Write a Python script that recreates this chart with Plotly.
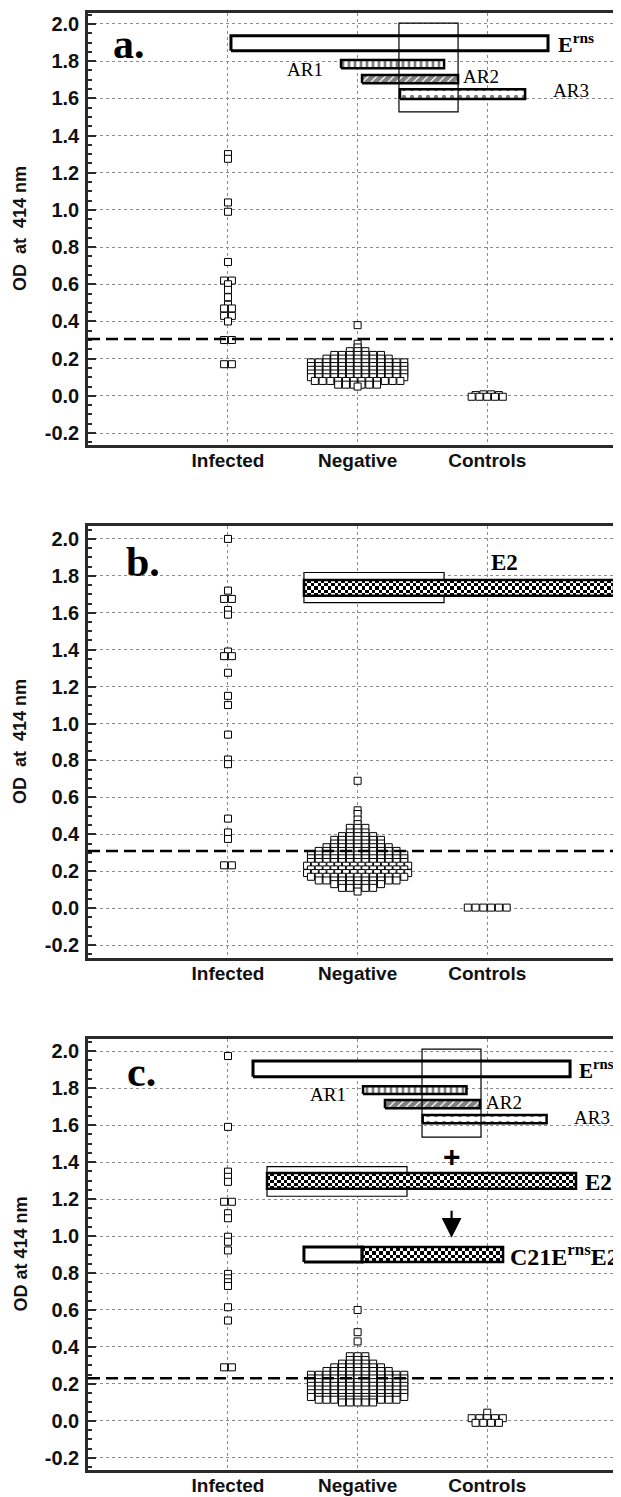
import plotly.graph_objects as go

# ---------------- data ----------------
CATEGORIES = ["Infected", "Negative", "Controls"]
Y_TICK_VALUES = [-0.2, 0.0, 0.2, 0.4, 0.6, 0.8, 1.0, 1.2, 1.4, 1.6, 1.8, 2.0]
Y_TICK_LABELS = ["-0.2", "0.0", "0.2", "0.4", "0.6", "0.8", "1.0", "1.2", "1.4", "1.6", "1.8", "2.0"]
Y_TITLES = ["OD  at  414 nm", "OD  at  414 nm", "OD at 414 nm"]
PANEL_LABELS = ["a.", "b.", "c."]

# panel a : E(rns) based ELISA
INFECTED_A = [1.30, 1.275, 1.04, 0.99, 0.72, 0.62, 0.62, 0.60, 0.57, 0.53, 0.49, 0.47, 0.47,
              0.43, 0.43, 0.40, 0.30, 0.30, 0.17, 0.17]
NEGATIVE_A_ROWS = [(0.38, 1), (0.28, 1), (0.26, 1), (0.24, 3), (0.22, 7), (0.20, 9), (0.18, 13),
                   (0.16, 13), (0.14, 13), (0.12, 13), (0.10, 13), (0.08, 12), (0.06, 6), (0.05, 1)]
CONTROLS_A = [-0.005, -0.005, -0.005, 0.004, 0.008, 0.008, 0.004, -0.005, -0.005]
CUTOFF_A = 0.305

# panel b : E2 based ELISA
INFECTED_B = [2.0, 1.72, 1.675, 1.675, 1.615, 1.59, 1.39, 1.365, 1.365, 1.275, 1.15, 1.10,
              0.94, 0.805, 0.78, 0.485, 0.41, 0.375, 0.232, 0.232]
NEGATIVE_B_ROWS = [(0.69, 1), (0.53, 1), (0.51, 1), (0.48, 1), (0.455, 1), (0.435, 3), (0.41, 3),
                   (0.39, 5), (0.37, 7), (0.35, 7), (0.33, 9), (0.31, 11), (0.29, 13), (0.27, 13),
                   (0.25, 13), (0.23, 14), (0.21, 13), (0.19, 14), (0.17, 13), (0.15, 11),
                   (0.13, 7), (0.11, 5), (0.09, 1)]
CONTROLS_B = [0.003, 0.003, 0.003, 0.003, 0.003, 0.003]
CUTOFF_B = 0.31

# panel c : C21ErnsE2 based ELISA
INFECTED_C = [1.973, 1.59, 1.348, 1.32, 1.293, 1.185, 1.185, 1.123, 1.096, 0.996, 0.969, 0.922,
              0.795, 0.771, 0.75, 0.73, 0.615, 0.543, 0.29, 0.29]
NEGATIVE_C_ROWS = [(0.60, 1), (0.48, 1), (0.43, 1), (0.35, 3), (0.33, 3), (0.31, 5), (0.29, 7),
                   (0.27, 9), (0.25, 13), (0.23, 13), (0.21, 13), (0.19, 13), (0.17, 13),
                   (0.15, 13), (0.13, 13), (0.115, 11), (0.10, 5)]
CONTROLS_C = [0.045, 0.015, 0.015, 0.015, 0.015, 0.015, -0.01, -0.01, -0.01, -0.01]
CUTOFF_C = 0.231


def expand(rows):
    out = []
    for v, n in rows:
        out += [v] * n
    return out


PANELS = [
    dict(groups=[INFECTED_A, expand(NEGATIVE_A_ROWS), CONTROLS_A], cutoff=CUTOFF_A),
    dict(groups=[INFECTED_B, expand(NEGATIVE_B_ROWS), CONTROLS_B], cutoff=CUTOFF_B),
    dict(groups=[INFECTED_C, expand(NEGATIVE_C_ROWS), CONTROLS_C], cutoff=CUTOFF_C),
]

# ---------------- schematic of antigen constructs (annotation drawings) ----------------
DIAGRAM_A = [
    dict(x=(0.023, 2.469), y=(1.856, 1.937), style="plain"),
    dict(x=(0.872, 1.667), y=(1.762, 1.806), style="ladder"),
    dict(x=(1.034, 1.775), y=(1.681, 1.726), style="hatch"),
    dict(x=(1.327, 2.292), y=(1.596, 1.649), style="dots"),
    dict(x=(1.319, 1.775), y=(1.527, 2.005), style="thin"),
]
DIAGRAM_B = [
    dict(x=(0.586, 1.667), y=(1.655, 1.818), style="thin_white"),
    dict(x=(0.586, 2.978), y=(1.692, 1.778), style="check"),
]
DIAGRAM_C = [
    dict(x=(0.193, 2.639), y=(1.861, 1.946), style="plain"),
    dict(x=(1.042, 1.840), y=(1.767, 1.810), style="ladder"),
    dict(x=(1.211, 1.944), y=(1.690, 1.735), style="hatch"),
    dict(x=(1.502, 2.458), y=(1.609, 1.654), style="dots"),
    dict(x=(1.497, 1.952), y=(1.535, 2.010), style="thin"),
    dict(x=(0.301, 1.381), y=(1.215, 1.375), style="thin_white"),
    dict(x=(0.301, 2.685), y=(1.256, 1.340), style="check"),
    dict(x=(0.586, 1.034), y=(0.860, 0.940), style="plain"),
    dict(x=(1.034, 2.122), y=(0.860, 0.940), style="check"),
]
DIAGRAMS = [DIAGRAM_A, DIAGRAM_B, DIAGRAM_C]

LABELS_A = [
    dict(t="<b>E<sup>rns</sup></b>", x=2.685, y=1.90, size=22, anchor="center"),
    dict(t="AR1", x=0.594, y=1.753, size=19, anchor="center"),
    dict(t="AR2", x=1.952, y=1.715, size=19, anchor="center"),
    dict(t="AR3", x=2.647, y=1.640, size=19, anchor="center"),
]
LABELS_B = [
    dict(t="<b>E2</b>", x=2.137, y=1.873, size=23, anchor="center"),
]
LABELS_C = [
    dict(t="<b>E<sup>rns</sup></b>", x=2.845, y=1.90, size=21, anchor="center"),
    dict(t="AR1", x=0.772, y=1.763, size=19, anchor="center"),
    dict(t="AR2", x=2.13, y=1.722, size=19, anchor="center"),
    dict(t="AR3", x=2.81, y=1.643, size=19, anchor="center"),
    dict(t="<b>E2</b>", x=2.855, y=1.29, size=23, anchor="center"),
    dict(t="<b>C21E<sup>rns</sup>E2</b>", x=2.16, y=0.90, size=24, anchor="left"),
]
LABELS = [LABELS_A, LABELS_B, LABELS_C]
PANEL_LABEL_POS = [(-0.764, 1.89), (-0.652, 1.876), (-0.667, 1.886)]

# ---------------- layout geometry ----------------
# the page body adds an 8 px offset; figure coordinates = reference pixels - 8
OFF = 8
W, H = 621 - OFF, 1497 - OFF
ML, MR = 88 - OFF, 0
PANEL_PX = [(13 - OFF, 445 - OFF), (526 - OFF, 958 - OFF), (1039 - OFF, 1470 - OFF)]
MT = PANEL_PX[0][0]
MB = H - PANEL_PX[2][1]
Y_RANGES = [(-0.2645, 2.059), (-0.270, 2.070), (-0.265, 2.065)]
X_RANGE = (-1.080, 3.032)
STEP = 0.060
PH = H - MT - MB
PX_PER_X = (W - ML - MR) / (X_RANGE[1] - X_RANGE[0])
CHECK_PX = 3.4

GRID = "#8c8c8c"
AX = "#2b2b2b"
SANS = "Liberation Sans, Arial, sans-serif"
SERIF = "Liberation Serif, Times New Roman, serif"


def dom(top, bot):
    return [(H - MB - bot) / PH, (H - MB - top) / PH]


def dot_positions(values, center, step, tol=0.008):
    vals = sorted(values, reverse=True)
    rows = []
    for v in vals:
        if rows and rows[-1][-1] - v <= tol:
            rows[-1].append(v)
        else:
            rows.append([v])
    xs, ys = [], []
    for row in rows:
        n = len(row)
        slots = sorted(range(n), key=lambda i: (abs(i - (n - 1) / 2), i))
        for v, s in zip(row, slots):
            xs.append(center + (s - (n - 1) / 2) * step)
            ys.append(v)
    return xs, ys


STYLE = {
    "plain": dict(fill="white", pattern=None, lw=3),
    "ladder": dict(fill="white", pattern=dict(shape="|", fgcolor="black", bgcolor="white", size=6, solidity=0.45), lw=2.5),
    "hatch": dict(fill="white", pattern=dict(shape="/", fgcolor="black", bgcolor="white", size=6, solidity=0.8), lw=2.5),
    "dots": dict(fill="white", pattern=dict(shape=".", fgcolor="black", bgcolor="white", size=8, solidity=0.25), lw=2.5),
    "check": dict(fill="white", pattern=None, lw=2.5),
    "thin_white": dict(fill="white", pattern=None, lw=1.2),
    "thin": dict(fill=None, pattern=None, lw=1.2),
}

fig = go.Figure()

for i in range(3):
    xn = "x" if i == 0 else f"x{i + 1}"
    yn = "y" if i == 0 else f"y{i + 1}"
    xk = "xaxis" if i == 0 else f"xaxis{i + 1}"
    yk = "yaxis" if i == 0 else f"yaxis{i + 1}"
    top, bot = PANEL_PX[i]
    px_per_y = (bot - top) / (Y_RANGES[i][1] - Y_RANGES[i][0])

    fig.layout[xk] = dict(
        domain=[0, 1], anchor=yn, range=list(X_RANGE),
        tickvals=[0, 1, 2], ticktext=CATEGORIES, ticks="",
        tickfont=dict(family=SANS, size=19, color="#111", weight="bold"),
        showgrid=True, gridcolor=GRID, griddash="dot", gridwidth=1,
        showline=True, mirror=True, linecolor=AX, linewidth=2.5, zeroline=False,
        ticklabelstandoff=-4, automargin=False,
    )
    fig.layout[yk] = dict(
        domain=dom(top, bot), anchor=xn, range=list(Y_RANGES[i]),
        tickvals=Y_TICK_VALUES, ticktext=Y_TICK_LABELS,
        ticks="inside", ticklen=8, tickwidth=1.5, tickcolor=AX,
        minor=dict(dtick=0.05, tick0=0, ticks="inside", ticklen=4, tickcolor=AX, showgrid=False),
        tickfont=dict(family=SANS, size=20, color="#111", weight="bold"),
        showgrid=True, gridcolor=GRID, griddash="dot", gridwidth=1,
        showline=True, mirror=False, linecolor=AX, linewidth=2.5, zeroline=False,
        automargin=False, ticklabelstandoff=2,
    )

    # schematic
    above = []
    for d in DIAGRAMS[i]:
        st = STYLE[d["style"]]
        x0, x1 = d["x"]
        y0, y1 = d["y"]
        if d["style"] == "thin":
            above.append((d, 1.2))
            continue
        if d["style"] == "thin_white":
            fig.add_shape(type="rect", xref=xn, yref=yn, x0=x0, x1=x1, y0=y0, y1=y1,
                          line=dict(color="black", width=st["lw"]), fillcolor="white", layer="between")
            continue
        if d["style"] == "check":
            nx = max(2, round((x1 - x0) * PX_PER_X / CHECK_PX))
            ny = max(2, round((y1 - y0) * px_per_y / CHECK_PX))
            dx, dy = (x1 - x0) / nx, (y1 - y0) / ny
            fig.add_trace(go.Heatmap(
                x=[x0 + (k + 0.5) * dx for k in range(nx)],
                y=[y0 + (k + 0.5) * dy for k in range(ny)],
                z=[[(a + b) % 2 for a in range(nx)] for b in range(ny)],
                colorscale=[[0, "white"], [1, "black"]], zmin=0, zmax=1, showscale=False,
                xaxis=xn, yaxis=yn, hoverinfo="skip", zsmooth=False,
            ))
            above.append((d, st["lw"]))
            continue
        kw = dict(
            x=[x0, x1, x1, x0, x0], y=[y0, y0, y1, y1, y0], xaxis=xn, yaxis=yn,
            mode="lines", line=dict(color="black", width=st["lw"]),
            fill="toself", fillcolor=st["fill"], hoverinfo="skip", showlegend=False,
        )
        if st["pattern"]:
            kw["fillpattern"] = st["pattern"]
        fig.add_trace(go.Scatter(**kw))
    for d, lw in above:
        fig.add_shape(type="rect", xref=xn, yref=yn, x0=d["x"][0], x1=d["x"][1],
                      y0=d["y"][0], y1=d["y"][1], line=dict(color="black", width=lw),
                      fillcolor="rgba(0,0,0,0)", layer="above")

    for lb in LABELS[i]:
        fig.add_annotation(x=lb["x"], y=lb["y"], xref=xn, yref=yn, text=lb["t"], showarrow=False,
                           xanchor=lb["anchor"], yanchor="middle",
                           font=dict(family=SERIF, size=lb["size"], color="black"))

    # data points
    for g, vals in enumerate(PANELS[i]["groups"]):
        xs, ys = dot_positions(vals, g, STEP)
        fig.add_trace(go.Scatter(
            x=xs, y=ys, xaxis=xn, yaxis=yn, mode="markers",
            marker=dict(symbol="square", size=7, color="white", line=dict(color="black", width=1)),
            showlegend=False, hoverinfo="y",
        ))

    # cutoff line
    fig.add_shape(type="line", xref=f"{xn} domain", yref=yn, x0=0, x1=1,
                  y0=PANELS[i]["cutoff"], y1=PANELS[i]["cutoff"],
                  line=dict(color="black", width=2.5, dash="12px,6px"))

    # panel letter
    px_, py_ = PANEL_LABEL_POS[i]
    fig.add_annotation(x=px_, y=py_, xref=xn, yref=yn, text=f"<b>{PANEL_LABELS[i]}</b>",
                       showarrow=False, xanchor="center", yanchor="middle",
                       font=dict(family=SERIF, size=42, color="black"))

    # y title
    fig.add_annotation(x=(20 - OFF - ML) / (W - ML - MR), y=0.5, xref="paper", yref=f"{yn} domain",
                       text=Y_TITLES[i], textangle=-90, showarrow=False,
                       xanchor="center", yanchor="middle",
                       font=dict(family=SANS, size=18, color="#111", weight="bold"))

# extra symbols in panel c
fig.add_annotation(x=1.725, y=1.43, xref="x3", yref="y3", text="<b>+</b>", showarrow=False,
                   font=dict(family=SANS, size=30, color="black"))
fig.add_annotation(x=1.725, y=0.99, xref="x3", yref="y3", ax=1.725, ay=1.145, axref="x3", ayref="y3",
                   text="", showarrow=True, arrowhead=2, arrowsize=1.8, arrowwidth=2.2, arrowcolor="black")

fig.update_layout(
    width=W, height=H, margin=dict(l=ML, r=MR, t=MT, b=MB),
    paper_bgcolor="white", plot_bgcolor="white", showlegend=False,
)

fig.write_html("out.html")
